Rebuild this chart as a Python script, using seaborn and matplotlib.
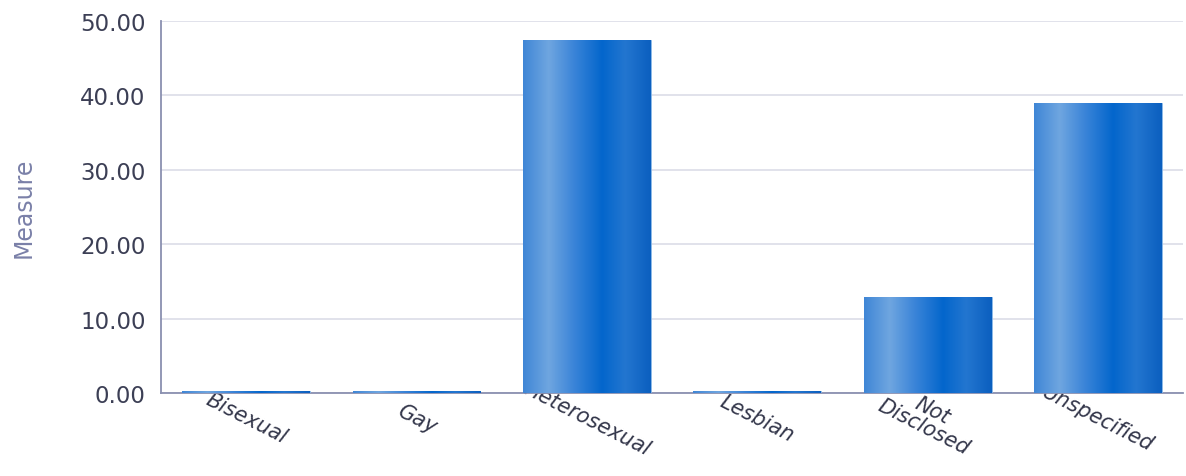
import numpy as np
import pandas as pd
import matplotlib
matplotlib.use("Agg")
import matplotlib.pyplot as plt
from matplotlib.colors import LinearSegmentedColormap
import seaborn as sns

categories = ["Bisexual", "Gay", "Heterosexual", "Lesbian", "Not\nDisclosed", "Unspecified"]
values = [0.3, 0.3, 47.4, 0.3, 12.9, 39.0]
y_ticks = [0, 10, 20, 30, 40, 50]

df = pd.DataFrame({"category": categories, "value": values})

sns.set_theme(style="white")
plt.rcParams["font.family"] = ["DejaVu Sans"]

fig = plt.figure(figsize=(11.86, 4.77), dpi=100)
ax = fig.add_axes([0.1357, 0.174, 0.862, 0.780])

sns.barplot(data=df, x="category", y="value", color="#0066cc", width=0.75,
            saturation=1, ax=ax, zorder=3)

# cylinder-style horizontal shading on each bar
shade = LinearSegmentedColormap.from_list(
    "cyl",
    [(0.0, "#3f86d6"), (0.2, "#6fa6e0"), (0.4, "#3a84d8"),
     (0.62, "#0366cc"), (0.8, "#2376d0"), (1.0, "#0b5fbf")])
grad = np.linspace(0, 1, 256).reshape(1, -1)
for patch in ax.patches:
    x0, y0 = patch.get_x(), patch.get_y()
    w, h = patch.get_width(), patch.get_height()
    im = ax.imshow(grad, cmap=shade, aspect="auto", extent=[x0, x0 + w, y0, y0 + h],
                   zorder=3.5, interpolation="bilinear")
    im.set_clip_path(patch)
    patch.set_edgecolor("#8fbbe8")
    patch.set_linewidth(0.6)

ax.set_xlim(-0.5, len(categories) - 0.5)
ax.set_ylim(0, 50)
ax.set_yticks(y_ticks)
ax.set_yticklabels([f"{v:.2f}" for v in y_ticks], fontsize=16.5, color="#3c3f55")
ax.tick_params(axis="y", length=0, pad=11)
ax.grid(axis="y", color="#dcdde8", linewidth=1.2, zorder=0)
ax.set_axisbelow(True)

ax.set_xlabel("")
ax.set_ylabel("Measure", fontsize=17, color="#7a80a8", labelpad=32)

ax.set_xticks(range(len(categories)))
ax.set_xticklabels(categories, fontsize=15, color="#33364a", rotation=-27,
                   ha="center", va="center", rotation_mode="anchor",
                   fontstyle="italic", linespacing=0.95)
ax.tick_params(axis="x", length=0, pad=18)

for side in ["top", "right"]:
    ax.spines[side].set_visible(False)
for side in ["left", "bottom"]:
    ax.spines[side].set_color("#8a90b0")
    ax.spines[side].set_linewidth(1.3)

fig.savefig("out.png", dpi=100)
